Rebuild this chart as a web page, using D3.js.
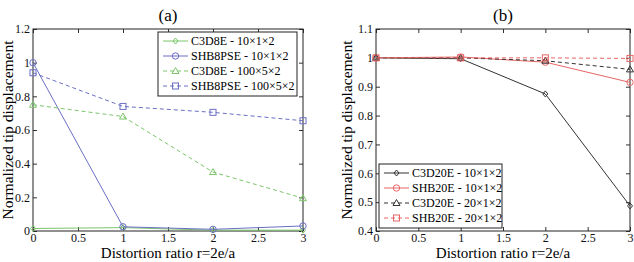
<!DOCTYPE html>
<meta charset="utf-8">
<style>
  body { margin: 0; background: #fff; }
</style>
<body>
<script src="https://cdn.jsdelivr.net/npm/d3@7"></script>
<script>

var width = 634, height = 262;

// shared x values
var ratios = [0, 1, 2, 3];
var xTicks = [0, 0.5, 1, 1.5, 2, 2.5, 3];

// panel (a)
var namesA = ["C3D8E - 10\u00d71\u00d72", "SHB8PSE - 10\u00d71\u00d72", "C3D8E - 100\u00d75\u00d72", "SHB8PSE - 100\u00d75\u00d72"];
var c3d8eCoarse = [0.015, 0.02, 0.005, 0.005];
var shb8pseCoarse = [1.0, 0.025, 0.01, 0.03];
var c3d8eFine = [0.75, 0.68, 0.35, 0.195];
var shb8pseFine = [0.94, 0.74, 0.705, 0.655];
var yTicksA = [0, 0.2, 0.4, 0.6, 0.8, 1, 1.2];

// panel (b)
var namesB = ["C3D20E - 10\u00d71\u00d72", "SHB20E - 10\u00d71\u00d72", "C3D20E - 20\u00d71\u00d72", "SHB20E - 20\u00d71\u00d72"];
var c3d20eCoarse = [1.0, 0.997, 0.875, 0.487];
var shb20eCoarse = [1.0, 1.003, 0.985, 0.915];
var c3d20eFine = [1.0, 1.0, 0.99, 0.96];
var shb20eFine = [1.0, 1.0, 1.0, 0.998];
var yTicksB = [0.4, 0.5, 0.6, 0.7, 0.8, 0.9, 1, 1.1];

var green = "#7cc66a", blue = "#6b6fc4", black = "#333", red = "#e86565";
var serif = "'Liberation Serif'";

var svg = d3.select("body").append("svg")
    .attr("width", width)
    .attr("height", height);

function marker(g, type, x, y, col) {
  if (type == "diamond") {
    g.append("path").attr("d", "M" + x + "," + (y - 3) + "L" + (x + 2.5) + "," + y + "L" + x + "," + (y + 3) + "L" + (x - 2.5) + "," + y + "Z")
      .attr("fill", "none").attr("stroke", col);
  } else if (type == "circle") {
    g.append("circle").attr("cx", x).attr("cy", y).attr("r", 3.2).attr("fill", "none").attr("stroke", col);
  } else if (type == "triangle") {
    g.append("path").attr("d", "M" + x + "," + (y - 3.5) + "L" + (x + 3.5) + "," + (y + 2.5) + "L" + (x - 3.5) + "," + (y + 2.5) + "Z")
      .attr("fill", "none").attr("stroke", col);
  } else {
    g.append("rect").attr("x", x - 3).attr("y", y - 3).attr("width", 6).attr("height", 6).attr("fill", "none").attr("stroke", col);
  }
}

function panel(opt) {
  var x = d3.scaleLinear().domain([0, 3]).range([opt.left, opt.right]);
  var y = d3.scaleLinear().domain(opt.ydom).range([opt.bottom, opt.top]);
  var g = svg.append("g");

  // ticks inward on all four sides
  g.append("g").attr("transform", "translate(0," + opt.bottom + ")")
    .call(d3.axisBottom(x).tickValues(xTicks).tickSize(-4).tickPadding(2).tickFormat(d3.format("")))
    .call(s => s.select(".domain").remove());
  g.append("g").attr("transform", "translate(0," + opt.top + ")")
    .call(d3.axisTop(x).tickValues(xTicks).tickSize(-4).tickFormat(""))
    .call(s => s.select(".domain").remove());
  g.append("g").attr("transform", "translate(" + opt.left + ",0)")
    .call(d3.axisLeft(y).tickValues(opt.yticks).tickSize(-4).tickPadding(3).tickFormat(d3.format("")))
    .call(s => s.select(".domain").remove());
  g.append("g").attr("transform", "translate(" + opt.right + ",0)")
    .call(d3.axisRight(y).tickValues(opt.yticks).tickSize(-4).tickFormat(""))
    .call(s => s.select(".domain").remove());
  g.selectAll(".tick text").attr("fill", "#111")
    .style("font-family", serif).style("font-size", "12px");
  g.selectAll(".tick line").attr("stroke", "#333");

  g.append("rect").attr("x", opt.left).attr("y", opt.top)
    .attr("width", opt.right - opt.left).attr("height", opt.bottom - opt.top)
    .attr("fill", "none").attr("stroke", "#222").attr("stroke-width", 1);

  var line = d3.line().x((d, i) => x(ratios[i])).y(d => y(d));
  opt.series.forEach(function(s) {
    g.append("path").datum(s.values).attr("d", line)
      .attr("fill", "none").attr("stroke", s.color).attr("stroke-width", 1)
      .attr("stroke-dasharray", s.dash ? "4,3" : null);
    s.values.forEach((v, i) => marker(g, s.mark, x(ratios[i]), y(v), s.color));
  });

  g.append("text").attr("x", (opt.left + opt.right) / 2).attr("y", 21)
    .attr("text-anchor", "middle").style("font-family", serif).style("font-size", "17px").text(opt.title);
  g.append("text").attr("x", (opt.left + opt.right) / 2).attr("y", 258)
    .attr("text-anchor", "middle").style("font-family", serif).style("font-size", "15px").text("Distortion ratio r=2e/a");
  g.append("text").attr("transform", "translate(" + opt.ylabX + "," + ((opt.top + opt.bottom) / 2) + ") rotate(-90)")
    .attr("text-anchor", "middle").style("font-family", serif).style("font-size", "15.5px").text("Normalized tip displacement");

  // legend
  var L = opt.legend;
  var lg = g.append("g");
  lg.append("rect").attr("x", L.x).attr("y", L.y).attr("width", L.w).attr("height", L.h)
    .attr("fill", "#fff").attr("stroke", "#222");
  opt.series.forEach(function(s, i) {
    var yy = L.y + 9 + i * L.step;
    lg.append("line").attr("x1", L.x + 5).attr("x2", L.x + 30).attr("y1", yy).attr("y2", yy)
      .attr("stroke", s.color).attr("stroke-dasharray", s.dash ? "4,3" : null);
    marker(lg, s.mark, L.x + 17.5, yy, s.color);
    lg.append("text").attr("x", L.x + 33).attr("y", yy + 4)
      .style("font-family", serif).style("font-size", "12px").text(s.name);
  });
}

panel({
  left: 33, right: 303, top: 29, bottom: 231, ydom: [0, 1.2], yticks: yTicksA,
  title: "(a)", ylabX: 13,
  legend: {x: 158, y: 32, w: 139, h: 64, step: 15},
  series: [
    {name: namesA[0], values: c3d8eCoarse, color: green, mark: "diamond", dash: false},
    {name: namesA[1], values: shb8pseCoarse, color: blue, mark: "circle", dash: false},
    {name: namesA[2], values: c3d8eFine, color: green, mark: "triangle", dash: true},
    {name: namesA[3], values: shb8pseFine, color: blue, mark: "square", dash: true}
  ]
});

panel({
  left: 376, right: 630, top: 29, bottom: 231, ydom: [0.4, 1.1], yticks: yTicksB,
  title: "(b)", ylabX: 352,
  legend: {x: 379, y: 164, w: 123, h: 64, step: 15},
  series: [
    {name: namesB[0], values: c3d20eCoarse, color: black, mark: "diamond", dash: false},
    {name: namesB[1], values: shb20eCoarse, color: red, mark: "circle", dash: false},
    {name: namesB[2], values: c3d20eFine, color: black, mark: "triangle", dash: true},
    {name: namesB[3], values: shb20eFine, color: red, mark: "square", dash: true}
  ]
});

</script>
